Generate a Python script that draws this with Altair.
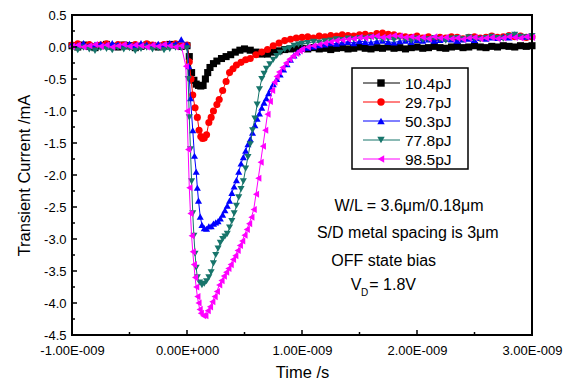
import altair as alt
import pandas as pd

# ---------------- data (time in ns, current in mA) ----------------
t_pre = [-1.0, -0.95, -0.9, -0.85, -0.8, -0.75, -0.7, -0.65, -0.6, -0.55,
         -0.5, -0.45, -0.4, -0.35, -0.3, -0.25, -0.2, -0.15, -0.1, -0.05]
t_post = [1.0, 1.05, 1.1, 1.15, 1.2, 1.25, 1.3, 1.35, 1.4, 1.45,
          1.5, 1.55, 1.6, 1.65, 1.7, 1.75, 1.8, 1.85, 1.9, 1.95,
          2.0, 2.05, 2.1, 2.15, 2.2, 2.25, 2.3, 2.35, 2.4, 2.45,
          2.5, 2.55, 2.6, 2.65, 2.7, 2.75, 2.8, 2.85, 2.9, 2.95, 3.0]

# 10.4 pJ
black_pre = [0.02, 0.0, 0.03, 0.01, -0.01, 0.02, 0.04, 0.01, 0.0, 0.03,
             0.02, -0.01, 0.01, 0.03, 0.02, 0.0, 0.02, 0.04, 0.03, 0.01]
black_t = [0.0, 0.02, 0.04, 0.06, 0.08, 0.10, 0.12, 0.14, 0.16, 0.18,
           0.20, 0.23, 0.26, 0.30, 0.34, 0.38, 0.42, 0.46, 0.50, 0.55,
           0.60, 0.65, 0.70, 0.75, 0.80, 0.85, 0.90, 0.95]
black_v = [0.02, -0.15, -0.4, -0.52, -0.58, -0.6, -0.61, -0.6, -0.5, -0.4,
           -0.32, -0.26, -0.22, -0.18, -0.15, -0.12, -0.08, -0.05, -0.03, -0.05,
           -0.08, -0.11, -0.11, -0.08, -0.06, -0.04, -0.03, -0.02]
black_post = [-0.02, -0.03, -0.01, -0.03, -0.02, -0.04, -0.02, -0.01, -0.03, -0.02,
              0.0, -0.02, -0.03, -0.01, -0.02, 0.0, -0.02, -0.01, -0.03, -0.01,
              0.0, -0.02, -0.01, 0.01, -0.01, -0.02, 0.0, 0.01, -0.01, 0.0,
              0.02, 0.0, -0.01, 0.01, 0.0, 0.02, 0.01, 0.0, 0.02, 0.01, 0.02]

# 29.7 pJ
red_pre = [0.03, 0.05, 0.02, 0.04, 0.01, 0.03, 0.05, 0.02, 0.04, 0.03,
           0.01, 0.04, 0.02, 0.05, 0.03, 0.02, 0.04, 0.03, 0.05, 0.02]
red_t = [0.0, 0.02, 0.035, 0.05, 0.07, 0.09, 0.105, 0.12, 0.135, 0.15,
         0.17, 0.19, 0.21, 0.23, 0.26, 0.28, 0.31, 0.34, 0.37, 0.40,
         0.43, 0.47, 0.51, 0.55, 0.60, 0.65, 0.70, 0.75, 0.80, 0.85, 0.90, 0.95]
red_v = [0.03, -0.23, -0.5, -0.75, -0.95, -1.1, -1.3, -1.4, -1.43, -1.42,
         -1.37, -1.18, -1.1, -1.0, -0.9, -0.82, -0.68, -0.54, -0.4, -0.34,
         -0.28, -0.24, -0.2, -0.18, -0.12, -0.08, -0.04, 0.02, 0.06, 0.1, 0.12, 0.14]
red_post = [0.15, 0.16, 0.14, 0.17, 0.16, 0.18, 0.17, 0.19, 0.18, 0.17,
            0.19, 0.2, 0.18, 0.21, 0.22, 0.2, 0.19, 0.17, 0.16, 0.15,
            0.17, 0.14, 0.16, 0.13, 0.15, 0.14, 0.16, 0.15, 0.13, 0.15,
            0.16, 0.14, 0.15, 0.17, 0.15, 0.16, 0.18, 0.16, 0.17, 0.15, 0.16]

# 50.3 pJ
blue_pre = [0.05, 0.03, 0.06, 0.02, 0.04, 0.05, 0.03, 0.06, 0.04, 0.02,
            0.05, 0.03, 0.06, 0.04, 0.03, 0.05, 0.04, 0.06, 0.05, 0.12]
blue_t = [0.0, 0.015, 0.03, 0.05, 0.065, 0.08, 0.09, 0.10, 0.115, 0.13,
          0.15, 0.17, 0.19, 0.21, 0.23, 0.25, 0.27, 0.29, 0.31, 0.33,
          0.35, 0.37, 0.39, 0.41, 0.43, 0.45, 0.47, 0.49, 0.51, 0.53,
          0.55, 0.57, 0.59, 0.61, 0.63, 0.65, 0.67, 0.69, 0.71, 0.73,
          0.75, 0.78, 0.81, 0.84, 0.87, 0.90, 0.93, 0.96]
blue_v = [0.04, -0.3, -0.8, -1.3, -1.7, -1.95, -2.2, -2.4, -2.65, -2.78,
          -2.83, -2.84, -2.8, -2.8, -2.76, -2.74, -2.72, -2.68, -2.62, -2.55,
          -2.48, -2.4, -2.28, -2.18, -2.08, -1.95, -1.82, -1.72, -1.62, -1.52,
          -1.44, -1.34, -1.22, -1.12, -1.04, -0.95, -0.87, -0.8, -0.72, -0.65,
          -0.58, -0.5, -0.43, -0.35, -0.27, -0.2, -0.13, -0.08]
blue_post = [-0.03, -0.01, 0.01, 0.03, 0.04, 0.06, 0.05, 0.07, 0.08, 0.06,
             0.09, 0.08, 0.07, 0.09, 0.1, 0.08, 0.07, 0.09, 0.1, 0.08,
             0.11, 0.1, 0.12, 0.1, 0.11, 0.13, 0.12, 0.1, 0.12, 0.13,
             0.11, 0.14, 0.13, 0.15, 0.14, 0.16, 0.15, 0.2, 0.17, 0.16, 0.18]

# 77.8 pJ
teal_pre = [-0.02, -0.05, -0.01, -0.04, -0.06, -0.02, -0.03, -0.05, -0.01, -0.04,
            -0.02, -0.06, -0.03, -0.01, -0.04, -0.02, -0.05, -0.03, -0.01, -0.02]
teal_t = [0.0, 0.01, 0.02, 0.03, 0.04, 0.05, 0.06, 0.07, 0.08, 0.09,
          0.11, 0.13, 0.15, 0.17, 0.19, 0.21, 0.23, 0.25, 0.27, 0.29,
          0.31, 0.33, 0.35, 0.37, 0.39, 0.41, 0.43, 0.45, 0.47, 0.49,
          0.51, 0.53, 0.55, 0.57, 0.59, 0.61, 0.63, 0.65, 0.67, 0.69,
          0.72, 0.75, 0.78, 0.81, 0.85, 0.89, 0.93, 0.97]
teal_v = [-0.02, -0.5, -1.1, -1.6, -2.1, -2.6, -2.95, -3.23, -3.45, -3.6,
          -3.68, -3.72, -3.7, -3.66, -3.6, -3.52, -3.38, -3.25, -3.15, -3.06,
          -3.0, -2.96, -2.92, -2.82, -2.72, -2.6, -2.48, -2.35, -2.22, -2.1,
          -1.9, -1.72, -1.52, -1.3, -1.12, -0.9, -0.66, -0.5, -0.42, -0.34,
          -0.27, -0.2, -0.14, -0.09, -0.04, -0.02, 0.02, 0.04]
teal_post = [0.05, 0.06, 0.08, 0.07, 0.09, 0.1, 0.12, 0.11, 0.13, 0.12,
             0.14, 0.13, 0.15, 0.14, 0.12, 0.13, 0.11, 0.14, 0.12, 0.1,
             0.13, 0.11, 0.12, 0.14, 0.12, 0.1, 0.13, 0.14, 0.12, 0.15,
             0.13, 0.12, 0.14, 0.16, 0.14, 0.13, 0.17, 0.19, 0.16, 0.15, 0.17]

# 98.5 pJ
mag_pre = [0.01, 0.03, 0.0, 0.02, 0.04, 0.01, 0.03, 0.0, 0.02, 0.04,
           0.01, 0.03, 0.02, 0.0, 0.03, 0.01, 0.04, 0.02, 0.0, 0.02]
mag_t = [-0.01, 0.0, 0.01, 0.02, 0.03, 0.04, 0.05, 0.06, 0.07, 0.08,
         0.09, 0.10, 0.11, 0.12, 0.14, 0.16, 0.18, 0.20, 0.22, 0.24,
         0.26, 0.28, 0.30, 0.32, 0.34, 0.36, 0.38, 0.40, 0.42, 0.44,
         0.46, 0.48, 0.50, 0.52, 0.54, 0.56, 0.58, 0.60, 0.62, 0.64,
         0.66, 0.68, 0.70, 0.72, 0.74, 0.76, 0.78, 0.80, 0.83, 0.86,
         0.89, 0.92, 0.95, 0.98]
mag_v = [-0.3, -1.0, -1.6, -2.2, -2.6, -2.95, -3.2, -3.4, -3.6, -3.75,
         -3.9, -4.0, -4.1, -4.16, -4.2, -4.2, -4.12, -4.06, -3.98, -3.9,
         -3.82, -3.72, -3.65, -3.58, -3.52, -3.46, -3.4, -3.32, -3.26, -3.18,
         -3.1, -3.03, -2.94, -2.85, -2.76, -2.66, -2.54, -2.3, -2.05, -1.8,
         -1.55, -1.3, -1.05, -0.85, -0.68, -0.55, -0.46, -0.39, -0.32, -0.25,
         -0.19, -0.14, -0.1, -0.06]
mag_post = [-0.03, 0.0, 0.02, 0.04, 0.06, 0.08, 0.1, 0.11, 0.12, 0.13,
            0.15, 0.14, 0.16, 0.17, 0.15, 0.16, 0.18, 0.17, 0.15, 0.16,
            0.14, 0.15, 0.13, 0.16, 0.14, 0.15, 0.13, 0.14, 0.12, 0.14,
            0.15, 0.13, 0.14, 0.15, 0.13, 0.14, 0.16, 0.15, 0.14, 0.16, 0.15]

labels = ["10.4pJ", "29.7pJ", "50.3pJ", "77.8pJ", "98.5pJ"]
colors = ["#000000", "#ff0000", "#0000ff", "#17756b", "#ff00ff"]
shapes = ["square", "circle", "triangle-up", "triangle-down", "triangle-left"]
pre_vals = [black_pre, red_pre, blue_pre, teal_pre, mag_pre]
dip_t = [black_t, red_t, blue_t, teal_t, mag_t]
dip_v = [black_v, red_v, blue_v, teal_v, mag_v]
post_vals = [black_post, red_post, blue_post, teal_post, mag_post]

y_ticks_major = [0.5, 0.0, -0.5, -1.0, -1.5, -2.0, -2.5, -3.0, -3.5, -4.0, -4.5]
y_ticks_minor = [0.25, -0.25, -0.75, -1.25, -1.75, -2.25, -2.75, -3.25, -3.75, -4.25]
x_ticks_major = [-1.0, 0.0, 1.0, 2.0, 3.0]
x_ticks_minor = [-0.5, 0.5, 1.5, 2.5]

annotations = ["W/L = 3.6\u03bcm/0.18\u03bcm", "S/D metal spacing is 3\u03bcm", "OFF state bias"]
ann_t = [1.93, 1.92, 1.71]
ann_v = [-2.48, -2.90, -3.34]

# ---------------- chart ----------------
W, H = 460, 320
FONT = "Liberation Sans"

xs = alt.Scale(domain=[-1, 3], nice=False, zero=False)
ys = alt.Scale(domain=[-4.5, 0.5], nice=False, zero=False)

x_axis = alt.Axis(
    values=x_ticks_major, grid=False, domain=False, ticks=False, labelPadding=9,
    labelFontSize=13, labelFont=FONT, labelColor="black", labelFlush=False,
    labelOverlap=False,
    labelExpr="(datum.value < 0 ? '-' : '') + format(abs(datum.value), '.2f') + (datum.value == 0 ? 'E+000' : 'E-009')",
    title="Time /s", titleFont=FONT, titleFontSize=16.5, titleFontWeight="normal",
    titleColor="black", titleBaseline="middle", titleY=37,
)
y_axis = alt.Axis(
    values=y_ticks_major, grid=False, domain=False, ticks=False, labelPadding=6,
    labelFontSize=13, labelFont=FONT, labelColor="black", labelFlush=False,
    labelOverlap=False,
    labelExpr="(datum.value < 0 ? '-' : '') + format(abs(datum.value), '.1f')",
    title="Transient Current /mA", titleFont=FONT, titleFontSize=16.5,
    titleFontWeight="normal", titleColor="black", titleBaseline="middle",
    titleX=-48, titleY=H / 2, titleAngle=270,
)


def X(field="t"):
    return alt.X(f"{field}:Q", scale=xs, axis=x_axis)


def Y(field="v"):
    return alt.Y(f"{field}:Q", scale=ys, axis=y_axis)


layers = []
for i in range(5):
    tt = t_pre + dip_t[i] + t_post
    vv = pre_vals[i] + dip_v[i] + post_vals[i]
    df = pd.DataFrame({"t": tt, "v": vv})
    line = alt.Chart(df).mark_line(color=colors[i], strokeWidth=1).encode(x=X(), y=Y())
    pts = alt.Chart(df).mark_point(
        shape=shapes[i], filled=True, color=colors[i], size=50, opacity=1
    ).encode(x=X(), y=Y())
    layers += [line, pts]

dummy = pd.DataFrame({"a": [0]})

# frame
frame = alt.Chart(dummy).mark_rect(fill=None, fillOpacity=0, stroke="black", strokeWidth=2).encode(
    x=alt.value(0), x2=alt.value(W), y=alt.value(0), y2=alt.value(H))
layers.append(frame)

# inward ticks
ytm = alt.Chart(pd.DataFrame({"v": y_ticks_major})).mark_rule(color="black", strokeWidth=1.5).encode(
    y=Y(), x=alt.value(0), x2=alt.value(5))
ytn = alt.Chart(pd.DataFrame({"v": y_ticks_minor})).mark_rule(color="black", strokeWidth=1.5).encode(
    y=Y(), x=alt.value(0), x2=alt.value(3))
xtm = alt.Chart(pd.DataFrame({"t": x_ticks_major})).mark_rule(color="black", strokeWidth=1.5).encode(
    x=X(), y=alt.value(H), y2=alt.value(H - 5))
xtn = alt.Chart(pd.DataFrame({"t": x_ticks_minor})).mark_rule(color="black", strokeWidth=1.5).encode(
    x=X(), y=alt.value(H), y2=alt.value(H - 3))
layers += [ytm, ytn, xtm, xtn]

# annotations
AF = 16
ann_df = pd.DataFrame({"t": ann_t, "v": ann_v, "label": annotations})
ann = alt.Chart(ann_df).mark_text(font=FONT, fontSize=AF, color="black", baseline="middle").encode(
    x=X(), y=Y(), text="label:N")
vd_v = alt.Chart(pd.DataFrame({"t": [1.47], "v": [-3.72]})).mark_text(
    font=FONT, fontSize=AF, color="black", baseline="middle", text="V").encode(x=X(), y=Y())
vd_d = alt.Chart(pd.DataFrame({"t": [1.545], "v": [-3.84]})).mark_text(
    font=FONT, fontSize=10, color="black", baseline="middle", text="D").encode(x=X(), y=Y())
vd_r = alt.Chart(pd.DataFrame({"t": [1.585], "v": [-3.72]})).mark_text(
    font=FONT, fontSize=AF, color="black", baseline="middle", align="left", text="= 1.8V").encode(x=X(), y=Y())
layers += [ann, vd_v, vd_d, vd_r]

# legend (manual, line + marker)
box = alt.Chart(dummy).mark_rect(fill="white", stroke="black", strokeWidth=1.5).encode(
    x=alt.value(280), x2=alt.value(396), y=alt.value(53), y2=alt.value(154))
layers.append(box)
for i in range(5):
    ly = 68 + 19 * i
    seg = alt.Chart(dummy).mark_rule(color=colors[i], strokeWidth=1).encode(
        x=alt.value(291), x2=alt.value(328), y=alt.value(ly))
    mk = alt.Chart(dummy).mark_point(shape=shapes[i], filled=True, color=colors[i], size=55, opacity=1).encode(
        x=alt.value(309), y=alt.value(ly))
    tx = alt.Chart(dummy).mark_text(font=FONT, fontSize=15.5, color="black", align="left",
                                    baseline="middle", text=labels[i]).encode(
        x=alt.value(333), y=alt.value(ly + 1))
    layers += [seg, mk, tx]

chart = alt.layer(*layers).properties(
    width=W, height=H,
    autosize=alt.AutoSizeParams(type="none"),
    padding={"left": 64, "top": 7, "right": 34, "bottom": 45},
).configure_view(stroke=None).configure(font=FONT, background="white")

chart.save("out.html", embed_options={"renderer": "svg", "actions": False})
